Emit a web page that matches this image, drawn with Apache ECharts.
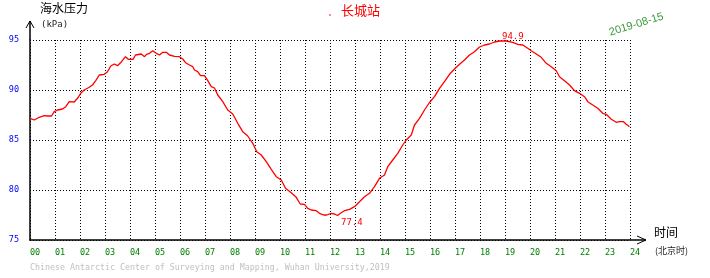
<!DOCTYPE html>
<html><head><meta charset="utf-8">
<script src="https://cdn.jsdelivr.net/npm/echarts@6/dist/echarts.min.js"></script>
<style>html,body{margin:0;padding:0;background:#fff}#c{width:710px;height:278px}</style>
</head><body><div id="c"></div>
<script>
const hours = [0.00,0.17,0.37,0.57,0.70,0.86,0.97,1.10,1.30,1.43,1.57,1.77,1.90,2.03,2.17,2.37,2.50,2.63,2.77,2.97,3.10,3.23,3.37,3.50,3.66,3.82,3.93,4.12,4.22,4.45,4.58,4.66,4.78,4.91,5.05,5.18,5.31,5.45,5.58,5.78,5.98,6.11,6.22,6.38,6.51,6.58,6.71,6.82,6.98,7.11,7.25,7.38,7.51,7.71,7.91,8.11,8.31,8.51,8.71,8.91,9.07,9.25,9.45,9.65,9.85,10.05,10.22,10.45,10.65,10.81,10.98,11.11,11.25,11.45,11.58,11.74,11.87,12.05,12.18,12.30,12.38,12.45,12.58,12.78,12.98,13.18,13.38,13.58,13.78,13.98,14.18,14.31,14.51,14.71,14.91,15.05,15.25,15.38,15.58,15.78,15.98,16.18,16.38,16.58,16.78,16.98,17.18,17.38,17.58,17.78,17.98,18.18,18.38,18.58,18.78,19.05,19.31,19.51,19.71,19.91,20.05,20.25,20.45,20.65,20.85,21.05,21.18,21.38,21.58,21.78,21.98,22.18,22.31,22.51,22.71,22.91,23.05,23.25,23.45,23.58,23.74,23.85,23.98];
const pressure = [87.17,87.00,87.27,87.43,87.40,87.40,87.83,88.00,88.10,88.33,88.83,88.80,89.17,89.67,90.00,90.27,90.50,90.93,91.50,91.57,91.83,92.40,92.60,92.43,92.83,93.33,93.07,93.07,93.50,93.60,93.33,93.57,93.67,93.93,93.67,93.50,93.77,93.77,93.50,93.37,93.33,93.10,92.73,92.50,92.33,92.00,91.83,91.43,91.43,90.93,90.33,90.20,89.50,88.83,88.00,87.60,86.67,85.83,85.40,84.67,83.83,83.50,82.83,82.07,81.33,81.00,80.17,79.73,79.27,78.60,78.57,78.17,78.00,77.93,77.67,77.50,77.50,77.67,77.60,77.45,77.40,77.73,77.93,78.07,78.33,78.83,79.33,79.67,80.33,81.17,81.50,82.33,83.00,83.67,84.50,85.00,85.50,86.50,87.17,88.00,88.75,89.33,90.17,90.83,91.57,92.10,92.57,93.00,93.50,93.83,94.30,94.50,94.60,94.80,94.90,94.90,94.77,94.57,94.50,94.17,93.93,93.60,93.27,92.67,92.33,91.93,91.33,90.93,90.50,89.93,89.67,89.33,88.83,88.50,88.17,87.67,87.57,87.07,86.77,86.83,86.83,86.57,86.33];
const xTicks = {min: 0, max: 24, step: 1};
const yTicks = {min: 75, max: 95, step: 5};
const stationName = '长城站';
const dateText = '2019-08-15';
const yTitle = '海水压力';
const yUnit = '(kPa)';
const xTitle = '时间';
const xUnit = '(北京时)';
const footer = 'Chinese Antarctic Center of Surveying and Mapping, Wuhan University,2019';

const mono = '"DejaVu Sans Mono", "Liberation Mono", monospace';
const cjk = '"Noto Sans CJK SC", sans-serif';
const chart = echarts.init(document.getElementById('c'), null, {renderer: 'canvas'});
const dotted = {color: '#000', width: 1, type: [1, 2]};
chart.setOption({
  animation: false,
  backgroundColor: '#fff',
  title: {text: stationName, left: 341, top: 4, padding: 0, textStyle: {color: '#ff0000', fontSize: 13, fontWeight: 'normal', fontFamily: cjk}},
  grid: {left: 30, top: 40, width: 600, height: 200},
  xAxis: {
    type: 'value', min: xTicks.min, max: xTicks.max, interval: xTicks.step,
    axisLine: {show: true, lineStyle: {color: '#000', width: 1.5}},
    axisTick: {show: false},
    splitLine: {show: true, lineStyle: dotted},
    axisLabel: {color: '#008000', fontFamily: mono, fontSize: 8.5, align: 'left', margin: 8,
      formatter: v => String(v).padStart(2, '0')}
  },
  yAxis: {
    type: 'value', min: yTicks.min, max: yTicks.max, interval: yTicks.step,
    axisLine: {show: true, lineStyle: {color: '#000', width: 1.5}},
    axisTick: {show: false},
    splitLine: {show: true, lineStyle: dotted},
    axisLabel: {color: '#0000ff', fontFamily: mono, fontSize: 8.5, margin: 11, padding: [0, 0, 4, 0]}
  },
  series: [{
    type: 'line', data: hours.map((h, i) => [h, pressure[i]]),
    showSymbol: false, symbol: 'none',
    lineStyle: {color: '#ff0000', width: 1.3},
    markPoint: {
      symbol: 'circle', symbolSize: 1, itemStyle: {color: 'rgba(0,0,0,0)'},
      label: {show: true, color: '#ff0000', fontFamily: mono, fontSize: 9, formatter: p => p.value.toFixed(1)},
      data: [
        {type: 'max', label: {position: [3, -8]}},
        {type: 'min', label: {position: [2, 3]}}
      ]
    }
  }],
  graphic: [
    {type: 'line', shape: {x1: 30, y1: 40, x2: 30, y2: 21}, style: {stroke: '#000', lineWidth: 1.5}},
    {type: 'polyline', shape: {points: [[26, 28], [30, 21], [34, 28]]}, style: {stroke: '#000', lineWidth: 1, fill: null}},
    {type: 'line', shape: {x1: 630, y1: 240, x2: 646, y2: 240}, style: {stroke: '#000', lineWidth: 1.5}},
    {type: 'polyline', shape: {points: [[637, 236], [646, 240], [637, 244]]}, style: {stroke: '#000', lineWidth: 1, fill: null}},
    {type: 'circle', shape: {cx: 330, cy: 15, r: 0.8}, style: {fill: '#ff0000'}},
    {type: 'text', left: 40, top: 2, style: {text: yTitle, font: '12px ' + cjk, fill: '#000'}},
    {type: 'text', left: 41, top: 20, style: {text: yUnit, font: '9px ' + mono, fill: '#222'}},
    {type: 'text', left: 654, top: 226, style: {text: xTitle, font: '12px ' + cjk, fill: '#000'}},
    {type: 'text', left: 655, top: 246, style: {text: xUnit, font: '9px ' + cjk, fill: '#222'}},
    {type: 'text', left: 30, top: 264, style: {text: footer, font: '8.3px ' + mono, fill: '#c0c0c0'}},
    {type: 'text', x: 611, y: 38, rotation: 17 * Math.PI / 180,
      style: {text: dateText, font: '11px "Liberation Sans", Arial, sans-serif', fill: '#3a9a3a', textVerticalAlign: 'bottom'}}
  ]
});
</script></body></html>
